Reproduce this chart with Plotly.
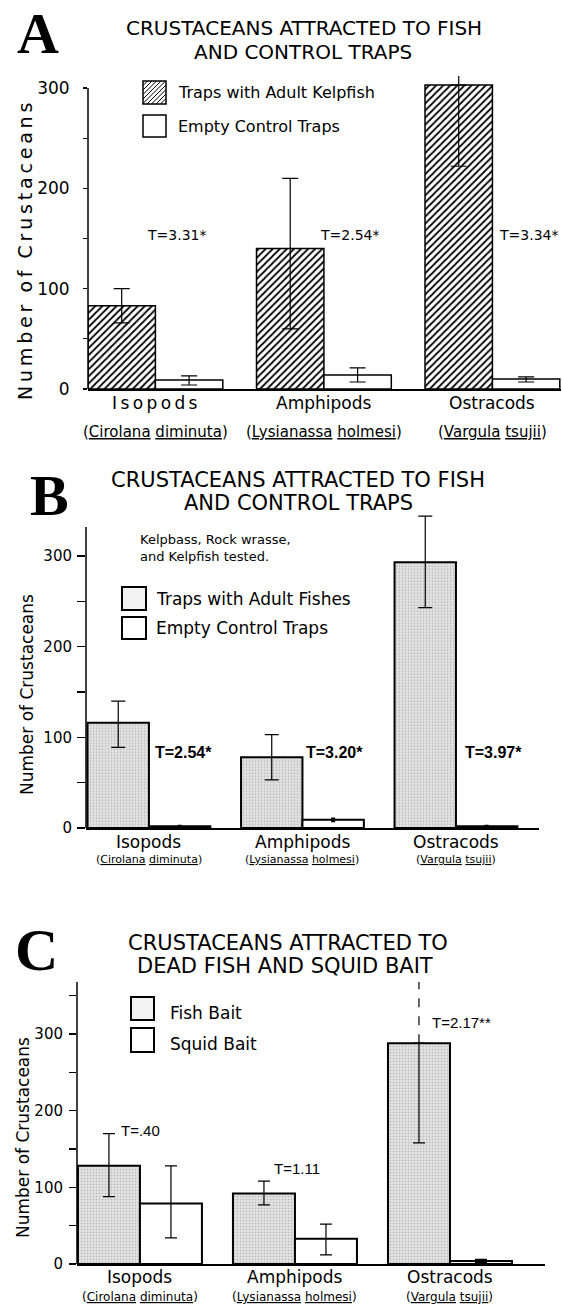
import plotly.graph_objects as go

W, H = 562, 1307

# ---------------- data ----------------
categories = ["Isopods", "Amphipods", "Ostracods"]
genus = ["Cirolana", "Lysianassa", "Vargula"]
epithet = ["diminuta", "holmesi", "tsujii"]

# Panel A: traps with adult kelpfish vs empty control traps
a_fish = [83, 140, 303]
a_fish_lo = [66, 60, 222]
a_fish_hi = [100, 210, 318]
a_ctrl = [9, 14, 10]
a_ctrl_lo = [4, 7, 7]
a_ctrl_hi = [13, 21, 12]
a_tvals = ["T=3.31*", "T=2.54*", "T=3.34*"]

# Panel B: traps with adult fishes vs empty control traps
b_fish = [116, 78, 293]
b_fish_lo = [89, 53, 243]
b_fish_hi = [140, 103, 344]
b_ctrl = [2, 9, 2]
b_ctrl_lo = [2, 8, 2]
b_ctrl_hi = [2, 10, 2]
b_tvals = ["T=2.54*", "T=3.20*", "T=3.97*"]

# Panel C: fish bait vs squid bait
c_fish = [128, 92, 288]
c_fish_lo = [88, 77, 158]
c_fish_hi = [170, 108, 368]
c_squid = [79, 33, 4]
c_squid_lo = [34, 12, 2]
c_squid_hi = [128, 52, 6]
c_tvals = ["T=.40", "T=1.11", "T=2.17**"]

# upper error drawn dashed (runs off the top of the chart)
a_fish_dashed = [False, False, True]
c_fish_dashed = [False, False, True]

# ---------------- helpers ----------------
def px(x):
    return x / W


def py(y):
    return 1 - y / H


FONT = "DejaVu Sans"
SERIF = "Liberation Serif"

fig = go.Figure()

HATCH = dict(color="white", line=dict(color="black", width=1.5),
             pattern=dict(shape="/", fgcolor="black", bgcolor="white", size=5, solidity=0.35))
GREY = dict(color="#e0e0e0", line=dict(color="black", width=2),
            pattern=dict(shape=".", fgcolor="#b4b4b4", bgcolor="#e3e3e3", size=3, solidity=0.25))
WHITE_A = dict(color="white", line=dict(color="black", width=1.5))
WHITE_B = dict(color="white", line=dict(color="black", width=2))


def add_bars(xa, ya, vals, lo, hi, offset, width, marker, errw, thick=1.2, dashed=None):
    xs = [i + offset for i in range(len(vals))]
    up = [0 if (dashed and dashed[i]) else hi[i] - vals[i] for i in range(len(vals))]
    down = [vals[i] - lo[i] for i in range(len(vals))]
    fig.add_trace(go.Bar(
        x=xs, y=vals, width=width, marker=marker, xaxis=xa, yaxis=ya, showlegend=False,
        error_y=dict(type="data", symmetric=False, array=up, arrayminus=down,
                     color="black", thickness=thick, width=errw),
    ))
    if dashed:
        for i, d in enumerate(dashed):
            if d:
                fig.add_trace(go.Scatter(
                    x=[xs[i], xs[i]], y=[vals[i], hi[i]], mode="lines",
                    line=dict(color="black", width=1.2, dash="dash"),
                    xaxis=xa, yaxis=ya, showlegend=False, hoverinfo="skip"))


BW = 0.40
add_bars("x", "y", a_fish, a_fish_lo, a_fish_hi, -BW / 2, BW, HATCH, 8, dashed=a_fish_dashed)
add_bars("x", "y", a_ctrl, a_ctrl_lo, a_ctrl_hi, BW / 2, BW, WHITE_A, 8)
add_bars("x2", "y2", b_fish, b_fish_lo, b_fish_hi, -BW / 2, BW, GREY, 7)
add_bars("x2", "y2", b_ctrl, b_ctrl_lo, b_ctrl_hi, BW / 2, BW, WHITE_B, 2, thick=3)
add_bars("x3", "y3", c_fish, c_fish_lo, c_fish_hi, -BW / 2, BW, GREY, 6, dashed=c_fish_dashed)
add_bars("x3", "y3", c_squid, c_squid_lo, c_squid_hi, BW / 2, BW, WHITE_B, 6)


def xaxis(x0, x1, r):
    return dict(domain=[px(x0), px(x1)], range=r, showline=True, linecolor="black",
                linewidth=1.5, showticklabels=False, ticks="", showgrid=False,
                zeroline=False, fixedrange=True, automargin=False)


def yaxis(ybot, ytop, r, tick_len, standoff, fsize, minor_vals):
    return dict(domain=[py(ybot), py(ytop)], range=r, showline=False, showgrid=False,
                zeroline=False, ticks="outside", ticklen=tick_len, tickwidth=1.2,
                tickcolor="black", tickvals=[0, 100, 200, 300],
                tickfont=dict(family=FONT, size=fsize, color="black"),
                ticklabelstandoff=standoff, automargin=False,
                minor=dict(tickvals=minor_vals, ticks="outside", ticklen=tick_len,
                           tickwidth=1.2, tickcolor="black", showgrid=False),
                fixedrange=True)


# panel A: 0 at y=389px, 300 at y=88px
a_top = 322
fig.update_layout(
    xaxis=dict(xaxis(88, 561, [-0.40, 2.407]), anchor="y"),
    yaxis=dict(yaxis(389, 389 - a_top * 301 / 300, [0, a_top], 4, 10, 17, [50, 150, 250]), anchor="x"),
)
# panel B: 0 at 828, 300 at 556
b_top = 350
fig.update_layout(
    xaxis2=dict(xaxis(86, 539, [-0.41, 2.541]), anchor="y2"),
    yaxis2=dict(yaxis(828, 828 - b_top * 272 / 300, [0, b_top], 8, 2, 15, [50, 150, 250]), anchor="x2"),
)
# panel C: 0 at 1264, 300 at 1034
c_top = 368
fig.update_layout(
    xaxis3=dict(xaxis(77, 545, [-0.406, 2.613]), anchor="y3"),
    yaxis3=dict(yaxis(1264, 1264 - c_top * 230 / 300, [0, c_top], 7, 3, 15, [50, 150, 250, 350]), anchor="x3"),
)

shapes = []
# y-axis lines
for xr, yr, top in [("x domain", "y", 300), ("x2 domain", "y2", 332), ("x3 domain", "y3", 368)]:
    shapes.append(dict(type="line", xref=xr, yref=yr, x0=0, x1=0, y0=0, y1=top,
                       line=dict(color="black", width=1.5)))


def rect(x0, y0, x1, y1, fill="white", lw=1.5):
    return dict(type="rect", xref="paper", yref="paper", x0=px(x0), x1=px(x1),
                y0=py(y1), y1=py(y0), fillcolor=fill, line=dict(color="black", width=lw), layer="above")


def hatch_path(x0, y0, x1, y1, step):
    parts = []
    c = x0 + y0 + step
    while c < x1 + y1:
        xa = max(x0, c - y1)
        xb = min(x1, c - y0)
        parts.append(f"M{px(xa):.5f},{py(c - xa):.5f} L{px(xb):.5f},{py(c - xb):.5f}")
        c += step
    return " ".join(parts)


# legend swatches
shapes.append(rect(143, 81, 166, 104))
shapes.append(dict(type="path", xref="paper", yref="paper", path=hatch_path(143, 81, 166, 104, 4.5),
                   line=dict(color="black", width=1), layer="above"))
shapes.append(rect(143, 115, 166, 137))
shapes.append(rect(122, 587, 146, 610, fill="#f3f3f3", lw=2))
shapes.append(rect(122, 617, 146, 639, lw=2))
shapes.append(rect(131, 997, 154, 1020, fill="#f3f3f3", lw=2))
shapes.append(rect(131, 1028, 154, 1052, lw=2))

fig.update_layout(shapes=shapes)

ann = []


def text(x, y, s, size, family=FONT, xanchor="center", angle=0, weight="normal"):
    ann.append(dict(x=px(x), y=py(y), xref="paper", yref="paper", text=s,
                    showarrow=False, xanchor=xanchor, yanchor="middle", textangle=angle,
                    font=dict(family=family, size=size, color="black", weight=weight)))


# panel letters
text(38, 33, "A", 58, family=SERIF, weight="bold")
text(49, 496, "B", 58, family=SERIF, weight="bold")
text(36, 950, "C", 60, family=SERIF, weight="bold")

# titles
text(304, 28, "CRUSTACEANS ATTRACTED TO FISH", 20)
text(303, 52, "AND CONTROL TRAPS", 20)
text(298, 480, "CRUSTACEANS ATTRACTED TO FISH", 21)
text(298, 503, "AND CONTROL TRAPS", 21)
text(288, 943, "CRUSTACEANS ATTRACTED TO", 21)
text(285, 966, "DEAD FISH AND SQUID BAIT", 21)

# y titles
TS = "\u2009"
spaced_title = ("  ").join(TS.join(w) for w in "Number of Crustaceans".split())
text(25, 252, spaced_title, 19, angle=-90)
text(27, 695, "Number of Crustaceans", 17, angle=-90)
text(23, 1138, "Number of Crustaceans", 17, angle=-90)

# legends
text(176, 93, "Traps with Adult Kelpfish", 16, xanchor="left")
text(176, 126, "Empty Control Traps", 16, xanchor="left")
text(138, 540, "Kelpbass, Rock wrasse,", 13, xanchor="left")
text(138, 556, "and Kelpfish tested.", 13, xanchor="left")
text(154, 599, "Traps with Adult Fishes", 17, xanchor="left")
text(154, 628, "Empty Control Traps", 17, xanchor="left")
text(168, 1013, "Fish Bait", 17, xanchor="left")
text(168, 1044, "Squid Bait", 17, xanchor="left")

# T statistics
for (x, y), t in zip([(176, 235), (349, 235), (528, 235)], a_tvals):
    text(x, y, t, 14)
for (x, y), t in zip([(183, 752), (334, 752), (494, 752)], b_tvals):
    text(x, y, t, 16, family="Liberation Sans", weight="bold")
for (x, y), t in zip([(140, 1130), (297, 1168), (461, 1022)], c_tvals):
    text(x, y, t, 15, family="Liberation Sans")

# category and species labels (positioned at group index on each x-axis)
for i, cat in enumerate(categories):
    lab = TS.join(cat) if i == 0 else cat
    sp = f"(<u>{genus[i]}</u> <u>{epithet[i]}</u>)"
    for xr, ycat, ysp, fcat, fsp in [("x", 403, 432, 17, 15), ("x2", 842, 859, 17, 11),
                                     ("x3", 1277, 1297, 17, 12)]:
        ann.append(dict(x=i, xref=xr, y=py(ycat), yref="paper", yanchor="middle",
                        xanchor="center", text=lab if xr == "x" else cat, showarrow=False,
                        font=dict(family=FONT, size=fcat, color="black")))
        ann.append(dict(x=i, xref=xr, y=py(ysp), yref="paper", yanchor="middle",
                        xanchor="center", text=sp, showarrow=False,
                        font=dict(family=FONT, size=fsp, color="black")))

fig.update_layout(
    annotations=ann,
    template="none",
    width=W, height=H, autosize=False,
    margin=dict(l=0, r=0, t=0, b=0, pad=0),
    paper_bgcolor="white", plot_bgcolor="white",
    barmode="overlay", showlegend=False,
    font=dict(family=FONT, color="black"),
)

fig.write_html("out.html", config={"displayModeBar": False, "staticPlot": True},
               post_script="document.body.style.margin='0';document.body.style.overflow='hidden';")
